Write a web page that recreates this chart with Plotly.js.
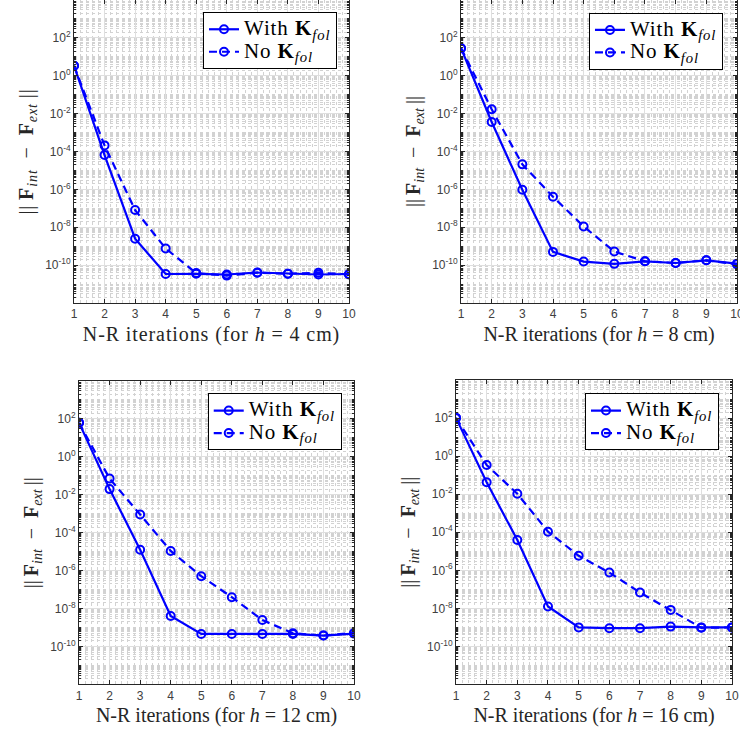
<!DOCTYPE html>
<html><head><meta charset="utf-8">
<script src="https://cdn.plot.ly/plotly-3.0.1.min.js"></script>
<style>
html,body{margin:0;padding:0;background:#fff}
.xtitle,.ytitle{letter-spacing:0.9px}
text.legendtext,.infolayer g[class^="legend"] text{font-size:21px !important;letter-spacing:0.9px}
</style>
</head><body><div id="chart" style="width:740px;height:733px"></div>
<script>
// ---- data ----
const iterations = [1, 2, 3, 4, 5, 6, 7, 8, 9, 10];

const withK_h4 = [3.4, 6.5e-5, 2.5e-9, 3.4e-11, 3.5e-11, 3.2e-11, 4.1e-11, 3.5e-11, 3.2e-11, 3.4e-11];
const noK_h4   = [3.4, 2.1e-4, 8.1e-8, 7.6e-10, 3.8e-11, 2.8e-11, 4.0e-11, 3.5e-11, 4.0e-11, 3.2e-11];

const withK_h8 = [28.6, 3.6e-3, 9.5e-7, 5.0e-10, 1.55e-10, 1.17e-10, 1.6e-10, 1.3e-10, 1.8e-10, 1.2e-10];
const noK_h8   = [28.6, 1.7e-2, 2.1e-5, 4.1e-7, 1.1e-8, 5.2e-10, 1.6e-10, 1.3e-10, 1.8e-10, 1.1e-10];

const withK_h12 = [63, 2.0e-2, 1.26e-5, 4.1e-9, 4.6e-10, 4.6e-10, 4.6e-10, 4.6e-10, 3.8e-10, 4.8e-10];
const noK_h12   = [63, 7.2e-2, 9.1e-4, 1.1e-5, 5.1e-7, 4.0e-8, 2.5e-9, 5.0e-10, 3.8e-10, 5.2e-10];

const withK_h16 = [102, 4.2e-2, 3.9e-5, 1.26e-8, 1.0e-9, 9.1e-10, 9.1e-10, 1.1e-9, 1.0e-9, 1.0e-9];
const noK_h16   = [102, 0.34, 1.05e-2, 1.07e-4, 5.8e-6, 7.6e-7, 6.8e-8, 8.3e-9, 9.5e-10, 1.0e-9];

const heights = ['4', '8', '12', '16'];
const seriesNames = ['With <b>K</b><sub><i>fol</i></sub>', 'No <b>K</b><sub><i>fol</i></sub>'];
const yLabelVals = [1e-10, 1e-8, 1e-6, 1e-4, 1e-2, 1, 100];
const yLabelText = ['10<sup>-10</sup>', '10<sup>-8</sup>', '10<sup>-6</sup>', '10<sup>-4</sup>',
                    '10<sup>-2</sup>', '10<sup>0</sup>', '10<sup>2</sup>'];
const yOddDecades = [1e-11, 1e-9, 1e-7, 1e-5, 1e-3, 1e-1, 10, 1000];
const xTickVals = [1, 2, 3, 4, 5, 6, 7, 8, 9, 10];

// ---- layout ----
const panels = [
  {w: withK_h4,  n: noK_h4,  xd: [0.1, 0.4716],    yd: [0.5866, 1],      lx: 0.4554, ly: 0.9836},
  {w: withK_h8,  n: noK_h8,  xd: [0.623, 0.9959],  yd: [0.5866, 1],      lx: 0.977,  ly: 0.9827},
  {w: withK_h12, n: noK_h12, xd: [0.1068, 0.4784], yd: [0.0662, 0.4802], lx: 0.4618, ly: 0.4634},
  {w: withK_h16, n: noK_h16, xd: [0.6162, 0.9892], yd: [0.0662, 0.4816], lx: 0.9716, ly: 0.4634}
];

const blue = '#0000ff';
const axColor = '#262626';
const majorGrid = '#dfdfdf';
const minorGrid = '#d2d2d2';
const serif = 'Liberation Serif, Times New Roman, serif';
const sans = 'Liberation Sans, Arial, sans-serif';

const traces = [];
const layout = {
  width: 740, height: 733,
  margin: {l: 0, r: 0, t: 0, b: 0},
  paper_bgcolor: '#ffffff', plot_bgcolor: '#ffffff',
  showlegend: true
};

panels.forEach((p, i) => {
  const k = i === 0 ? '' : String(i + 1);
  const leg = i === 0 ? 'legend' : 'legend' + (i + 1);
  const marker = {symbol: 'circle-open', size: 8, color: blue, line: {width: 2, color: blue}};
  traces.push({
    x: iterations, y: p.w, xaxis: 'x' + k, yaxis: 'y' + k, legend: leg,
    name: seriesNames[0], mode: 'lines+markers', type: 'scatter',
    line: {color: blue, width: 2.2}, marker: marker
  });
  traces.push({
    x: iterations, y: p.n, xaxis: 'x' + k, yaxis: 'y' + k, legend: leg,
    name: seriesNames[1], mode: 'lines+markers', type: 'scatter',
    line: {color: blue, width: 2.2, dash: '8px,5px'}, marker: marker
  });
  layout['xaxis' + k] = {
    domain: p.xd, anchor: 'y' + k, range: [1, 10],
    tickmode: 'array', tickvals: xTickVals, ticktext: xTickVals.map(String),
    ticks: 'inside', ticklen: 4, tickcolor: axColor, mirror: 'ticks',
    showline: true, linecolor: axColor, linewidth: 1,
    showgrid: true, gridcolor: majorGrid, gridwidth: 1, zeroline: false,
    ticklabeloverflow: 'allow',
    minor: {dtick: 0.2, tick0: 1, showgrid: true, gridcolor: minorGrid, griddash: 'dot', gridwidth: 1, ticks: ''},
    tickfont: {family: sans, size: 12, color: '#404040'},
    title: {text: 'N-R iterations (for <i>h</i> = ' + heights[i] + ' cm)', font: {family: serif, size: 20, color: axColor}, standoff: 6},
    fixedrange: true
  };
  layout['yaxis' + k] = {
    domain: p.yd, anchor: 'x' + k, type: 'log', range: [-12, 4],
    tickmode: 'array', tickvals: yLabelVals, ticktext: yLabelText,
    ticks: 'inside', ticklen: 4, tickcolor: axColor, mirror: 'ticks',
    showline: true, linecolor: axColor, linewidth: 1,
    showgrid: true, gridcolor: majorGrid, gridwidth: 1, zeroline: false,
    minor: {dtick: 'D1', showgrid: true, gridcolor: minorGrid, griddash: 'dot', gridwidth: 1, ticks: 'inside', ticklen: 2, tickcolor: axColor},
    tickfont: {family: sans, size: 12, color: '#404040'},
    title: {text: '||\u2009<b>F</b><sub><i>int</i></sub>\u2002\u2212\u2002<b>F</b><sub><i>ext</i></sub>\u2009||',
            font: {family: serif, size: 20, color: axColor}, standoff: 6},
    fixedrange: true
  };
  // companion axis: solid grid lines and ticks at the unlabelled (odd) decades
  layout['yaxis' + (i + 5)] = {
    domain: p.yd, anchor: 'x' + k, overlaying: 'y' + k, side: 'left', type: 'log', range: [-12, 4],
    tickmode: 'array', tickvals: yOddDecades, showticklabels: false,
    ticks: 'inside', ticklen: 4, tickcolor: axColor, mirror: 'ticks', showline: false,
    showgrid: true, gridcolor: majorGrid, gridwidth: 1, zeroline: false,
    fixedrange: true
  };
  layout[leg] = {
    x: p.lx, y: p.ly, xref: 'paper', yref: 'paper', xanchor: 'right', yanchor: 'top',
    bgcolor: '#ffffff', bordercolor: '#000000', borderwidth: 1,
    font: {family: serif, size: 15, color: '#000000'},
    tracegroupgap: 0
  };
});

Plotly.newPlot('chart', traces, layout, {displayModeBar: false, staticPlot: true});
</script>
</body></html>
